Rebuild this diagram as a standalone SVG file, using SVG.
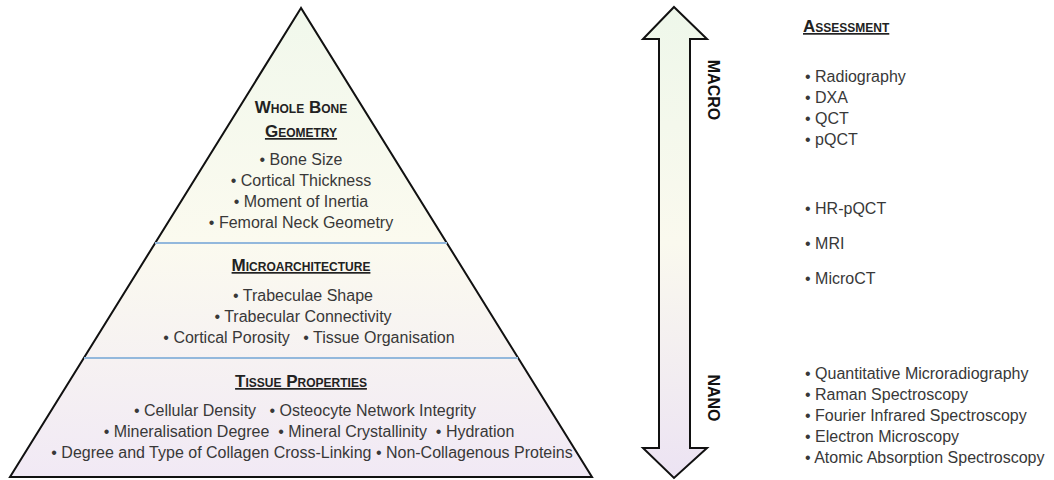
<svg xmlns="http://www.w3.org/2000/svg" width="1054" height="480" viewBox="0 0 1054 480">
<defs>
<linearGradient id="pyrGrad" x1="0" y1="0" x2="0" y2="1">
<stop offset="0" stop-color="#f1f8ec"/>
<stop offset="0.5" stop-color="#fbfaef"/>
<stop offset="1" stop-color="#f1e9f5"/>
</linearGradient>
<linearGradient id="arrGrad" x1="0" y1="0" x2="0" y2="1">
<stop offset="0" stop-color="#eef7ea"/>
<stop offset="0.5" stop-color="#faf9ee"/>
<stop offset="1" stop-color="#ece3f3"/>
</linearGradient>
<style>
.head{font-family:"Liberation Sans",Arial,sans-serif;font-weight:bold;font-size:17px;font-variant:small-caps;fill:#222;text-anchor:middle}
.ul{text-decoration:underline}
.item{font-family:"Liberation Sans",Arial,sans-serif;font-size:16px;fill:#383838;text-anchor:middle}
.aitem{font-family:"Liberation Sans",Arial,sans-serif;font-size:16px;fill:#383838}
.scale{font-family:"Liberation Sans",Arial,sans-serif;font-weight:bold;font-size:16px;fill:#111;text-anchor:middle}
.divider{stroke:#93b8dc;stroke-width:2}
.outline{stroke:#111;stroke-width:2;stroke-linejoin:miter}
</style>
</defs>
<rect width="1054" height="480" fill="#ffffff"/>

<g id="pyramid">
<polygon class="outline" points="301,8 10,477 592,477" fill="url(#pyrGrad)"/>
<line class="divider" x1="155" y1="243" x2="447" y2="243"/>
<line class="divider" x1="84" y1="358" x2="518" y2="358"/>
</g>

<g id="whole-bone-geometry">
<text class="head" x="301" y="113">Whole Bone</text>
<text class="head ul" x="301" y="137">Geometry</text>
<text class="item" x="301" y="165">• Bone Size</text>
<text class="item" x="301" y="186">• Cortical Thickness</text>
<text class="item" x="301" y="207">• Moment of Inertia</text>
<text class="item" x="301" y="228">• Femoral Neck Geometry</text>
</g>

<g id="microarchitecture">
<text class="head ul" x="301" y="271">Microarchitecture</text>
<text class="item" x="303" y="301">• Trabeculae Shape</text>
<text class="item" x="303" y="322">• Trabecular Connectivity</text>
<text class="item" x="309" y="343" xml:space="preserve">• Cortical Porosity   • Tissue Organisation</text>
</g>

<g id="tissue-properties">
<text class="head ul" x="301" y="387">Tissue Properties</text>
<text class="item" x="305" y="416" xml:space="preserve">• Cellular Density   • Osteocyte Network Integrity</text>
<text class="item" x="309" y="437" xml:space="preserve">• Mineralisation Degree  • Mineral Crystallinity  • Hydration</text>
<text class="item" x="312" y="458">• Degree and Type of Collagen Cross-Linking • Non-Collagenous Proteins</text>
</g>

<g id="scale-arrow">
<polygon class="outline" fill="url(#arrGrad)" points="674,7 707,39 690,39 690,448 707,448 674,478 643,448 659,448 659,39 643,39"/>
<text class="scale" transform="translate(708,90) rotate(90)">MACRO</text>
<text class="scale" transform="translate(708,398) rotate(90)">NANO</text>
</g>

<g id="assessment">
<text class="head ul" x="803" y="32" style="text-anchor:start">Assessment</text>
<text class="aitem" x="805" y="82">• Radiography</text>
<text class="aitem" x="805" y="103">• DXA</text>
<text class="aitem" x="805" y="124">• QCT</text>
<text class="aitem" x="805" y="145">• pQCT</text>
<text class="aitem" x="805" y="214">• HR-pQCT</text>
<text class="aitem" x="805" y="249">• MRI</text>
<text class="aitem" x="805" y="284">• MicroCT</text>
<text class="aitem" x="805" y="379">• Quantitative Microradiography</text>
<text class="aitem" x="805" y="400">• Raman Spectroscopy</text>
<text class="aitem" x="805" y="421">• Fourier Infrared Spectroscopy</text>
<text class="aitem" x="805" y="442">• Electron Microscopy</text>
<text class="aitem" x="805" y="463">• Atomic Absorption Spectroscopy</text>
</g>

<g id="connectors"></g>
</svg>
